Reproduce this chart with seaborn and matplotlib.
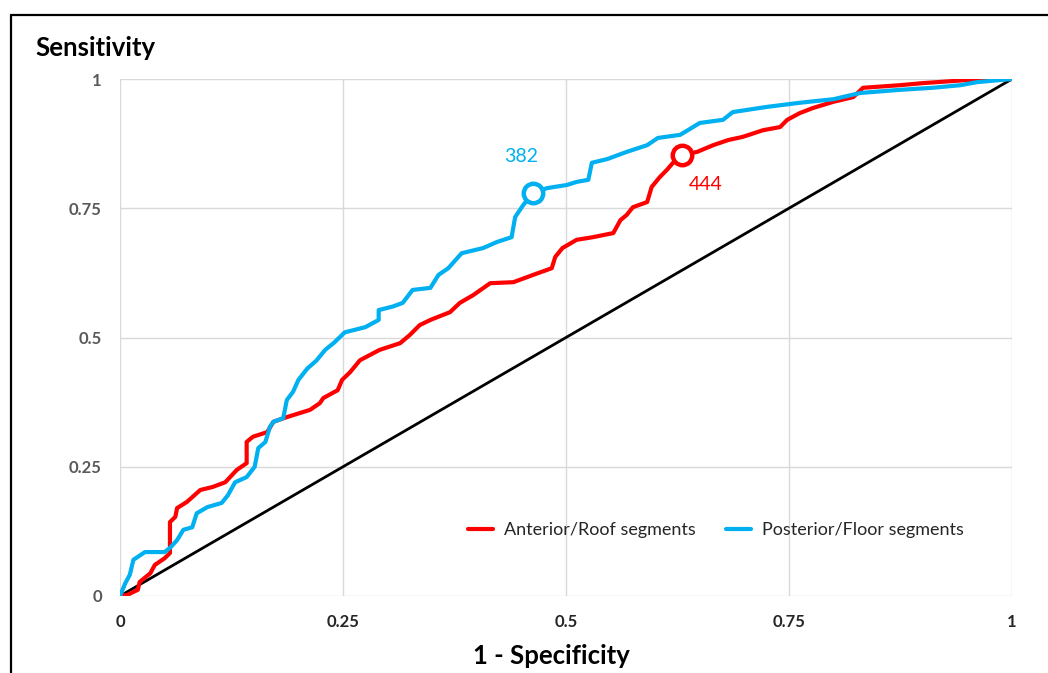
import matplotlib
matplotlib.use("Agg")
import matplotlib.pyplot as plt
import seaborn as sns
import pandas as pd
from matplotlib.lines import Line2D

# ---- data ----
ant_fpr = [0, 0.008, 0.02, 0.022, 0.034, 0.039, 0.05, 0.056, 0.056, 0.062, 0.064, 0.075, 0.09, 0.104,
           0.118, 0.131, 0.142, 0.142, 0.149, 0.165, 0.172, 0.187, 0.213, 0.224, 0.228, 0.244, 0.249,
           0.258, 0.269, 0.291, 0.314, 0.325, 0.336, 0.348, 0.37, 0.381, 0.396, 0.415, 0.441, 0.463,
           0.484, 0.488, 0.496, 0.512, 0.53, 0.553, 0.561, 0.568, 0.575, 0.591, 0.596, 0.605, 0.613,
           0.62, 0.63, 0.647, 0.665, 0.682, 0.698, 0.721, 0.74, 0.748, 0.762, 0.777, 0.8, 0.822, 0.833,
           0.874, 0.9, 0.95, 1.0]
ant_tpr = [0, 0.002, 0.012, 0.027, 0.044, 0.06, 0.073, 0.083, 0.143, 0.153, 0.17, 0.182, 0.205, 0.211,
           0.22, 0.244, 0.257, 0.298, 0.308, 0.317, 0.337, 0.346, 0.36, 0.373, 0.383, 0.398, 0.418,
           0.433, 0.456, 0.476, 0.489, 0.505, 0.524, 0.534, 0.549, 0.567, 0.582, 0.605, 0.607, 0.621,
           0.634, 0.656, 0.673, 0.689, 0.694, 0.702, 0.727, 0.737, 0.752, 0.762, 0.791, 0.81, 0.824,
           0.838, 0.853, 0.859, 0.872, 0.882, 0.888, 0.901, 0.907, 0.921, 0.934, 0.944, 0.956, 0.965,
           0.983, 0.988, 0.992, 0.998, 1.0]

post_fpr = [0, 0.006, 0.011, 0.015, 0.028, 0.05, 0.056, 0.064, 0.071, 0.081, 0.086, 0.098, 0.114,
            0.121, 0.129, 0.142, 0.151, 0.155, 0.163, 0.168, 0.172, 0.183, 0.187, 0.194, 0.2, 0.21,
            0.22, 0.23, 0.24, 0.252, 0.275, 0.29, 0.29, 0.306, 0.317, 0.328, 0.348, 0.357, 0.368,
            0.383, 0.407, 0.423, 0.439, 0.443, 0.452, 0.463, 0.479, 0.501, 0.512, 0.525, 0.529, 0.546,
            0.568, 0.591, 0.603, 0.628, 0.65, 0.676, 0.687, 0.725, 0.762, 0.8, 0.83, 0.874, 0.911,
            0.942, 0.961, 1.0]
post_tpr = [0, 0.025, 0.041, 0.07, 0.085, 0.085, 0.093, 0.108, 0.128, 0.133, 0.16, 0.172, 0.18, 0.195,
            0.22, 0.23, 0.25, 0.286, 0.298, 0.327, 0.337, 0.344, 0.379, 0.395, 0.418, 0.44, 0.455,
            0.476, 0.49, 0.51, 0.52, 0.534, 0.553, 0.56, 0.567, 0.592, 0.596, 0.621, 0.634, 0.663,
            0.673, 0.685, 0.694, 0.733, 0.756, 0.78, 0.789, 0.795, 0.801, 0.805, 0.838, 0.845, 0.859,
            0.872, 0.886, 0.892, 0.915, 0.921, 0.936, 0.946, 0.954, 0.961, 0.973, 0.979, 0.983, 0.988,
            0.994, 1.0]

series_names = ["Anterior/Roof segments", "Posterior/Floor segments"]
cutoff_labels = ["444", "382"]
cutoff_fpr = [0.63, 0.463]
cutoff_tpr = [0.853, 0.78]
tick_vals = [0, 0.25, 0.5, 0.75, 1]
tick_labels = ["0", "0.25", "0.5", "0.75", "1"]
ref_line = [0, 1]

RED = "#FF0000"
BLUE = "#00B0F0"

sns.set_theme(style="white")
plt.rcParams["font.family"] = ["Lato", "DejaVu Sans"]

df = pd.concat([
    pd.DataFrame({"fpr": ant_fpr, "tpr": ant_tpr, "series": series_names[0]}),
    pd.DataFrame({"fpr": post_fpr, "tpr": post_tpr, "series": series_names[1]}),
], ignore_index=True)

fig = plt.figure(figsize=(10.48, 6.73), dpi=100)
ax = fig.add_axes([120 / 1048, 1 - 596 / 673, 892 / 1048, 517 / 673])

# grid
for v in tick_vals:
    ax.axhline(v, color="#d9d9d9", lw=1, zorder=0)
    ax.axvline(v, color="#d9d9d9", lw=1, zorder=0)

sns.lineplot(data=df, x="fpr", y="tpr", hue="series", hue_order=series_names,
             palette=[RED, BLUE], estimator=None, sort=False, lw=3.0, ax=ax,
             legend=False, zorder=3)
sns.lineplot(x=ref_line, y=ref_line, color="black", lw=2.0, ax=ax, zorder=2)

for fx, fy, lab, col, dx, dy in zip(cutoff_fpr, cutoff_tpr, cutoff_labels, [RED, BLUE],
                                    [0.027, -0.013], [-0.057, 0.071]):
    ax.plot(fx, fy, marker="o", ms=14, mfc="white", mec=col, mew=3.2, zorder=5)
    ax.text(fx + dx, fy + dy, lab, color=col, fontsize=14, ha="center", va="center", zorder=6)

ax.set_xlim(0, 1)
ax.set_ylim(0, 1)
ax.set_xticks(tick_vals)
ax.set_yticks(tick_vals)
ax.set_xticklabels(tick_labels)
ax.set_yticklabels(tick_labels)
ax.tick_params(axis="both", length=0, labelsize=12)
ax.tick_params(axis="y", pad=13, labelcolor="#595959")
ax.tick_params(axis="x", pad=13, labelcolor="#262626")
for lbl in ax.get_xticklabels() + ax.get_yticklabels():
    lbl.set_fontweight("bold")
for s in ax.spines.values():
    s.set_visible(False)
ax.set_xlabel("")
ax.set_ylabel("")

handles = [Line2D([0], [0], color=RED, lw=3), Line2D([0], [0], color=BLUE, lw=3)]
ax.legend(handles, series_names, loc="center", bbox_to_anchor=(0.668, 0.128), ncol=2,
          frameon=False, fontsize=13, handlelength=1.4, handletextpad=0.6, columnspacing=1.65,
          labelcolor="#262626")

fig.text(35 / 1048, 1 - 48 / 673, "Sensitivity", fontsize=18.5, fontweight="bold",
         ha="left", va="center", color="black")
fig.text(551 / 1048, 1 - 656 / 673, "1 - Specificity", fontsize=18.5, fontweight="bold",
         ha="center", va="center", color="black")

# partial frame (top and left edges)
fig.add_artist(Line2D([11 / 1048, 11 / 1048], [0, 1 - 15 / 673], color="black", lw=1.6,
                      transform=fig.transFigure))
fig.add_artist(Line2D([11 / 1048, 1], [1 - 15 / 673, 1 - 15 / 673], color="black", lw=1.6,
                      transform=fig.transFigure))

fig.savefig("out.png", dpi=100)
